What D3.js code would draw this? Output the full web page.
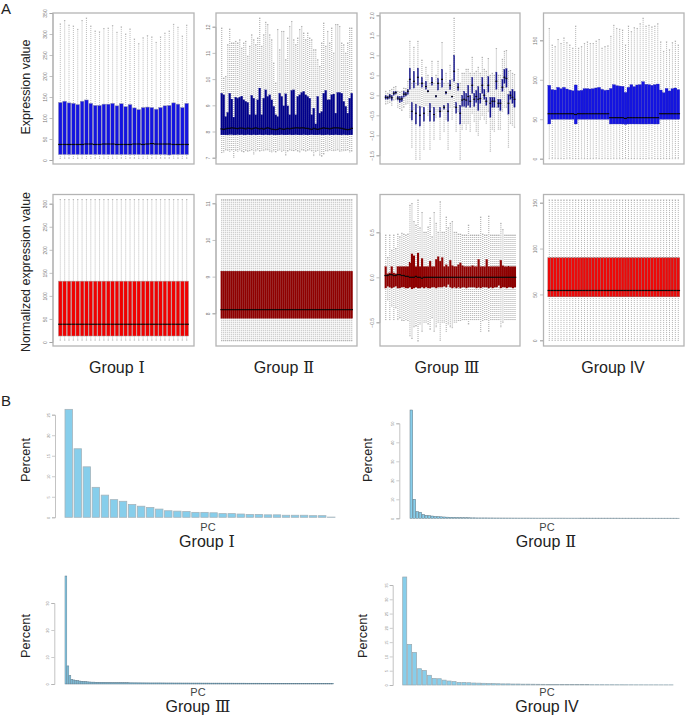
<!DOCTYPE html>
<html><head><meta charset="utf-8">
<script src="https://cdn.jsdelivr.net/npm/d3@7/dist/d3.min.js"></script>
<style>html,body{margin:0;padding:0;background:#fff}svg{display:block}text{font-family:"Liberation Sans",sans-serif}</style>
</head><body><svg id="c" width="685" height="717"></svg>
<script>
// ---------- Panel A, raw data (blue row) ----------
const g1Hi=[324,332,321,319,311,332,338,319,307,305,313,314,320,304,317,300,312,288,277,291,296,293,280,293,302,307,323,316,295,321];
const g1Q3=[137,140,136,135,132,140,143,135,130,130,133,133,135,129,134,127,132,124,120,125,126,125,121,125,129,130,136,133,125,135];
const g1Med=[37,37,37,37,37,37,38,38,37,37,38,38,38,37,37,37,37,38,38,37,38,39,38,38,38,38,37,37,37,37];
const g1Q1=[13,13,13,13,13,13,13,13,13,13,13,13,13,13,13,13,13,13,13,13,13,13,13,13,13,12,13,13,13,13];
const g1Lo=[4,4,4,4,4,4,4,4,4,4,4,4,4,4,4,4,4,4,4,4,4,4,4,4,4,4,4,4,4,4];

const g2Hi=[11.95,10.04,10.1,11.31,11.91,11.38,11.38,11.44,11.38,11.5,11.18,11.38,11.44,10.87,11.25,11.69,11.5,11.31,11.57,12.33,11.25,11.69,12.17,12.08,11.69,11.5,10.61,9.85,11.89,11.12,11.82,11.82,10.74,11.57,12.01,12.2,11.5,11.31,11.57,11.89,12.01,11.76,11.5,11.76,11.57,11.5,11.12,11.12,10.74,10.48,11.38,12.14,11.25,11.82,11.38,11.95,10.99,12.08,12.08,12.01,11.38,11.31,10.99,11.38,11.95,11.95];
const g2Q3=[9.46,9.4,8.57,8.73,9.46,9.24,8.55,9.31,9.27,9.31,9.35,9.21,9.15,9.11,8.64,9.38,9.27,8.64,9.21,9.66,8.64,9.27,9.59,9.34,9.4,9.21,8.96,8.64,8.57,9.46,9.34,8.98,9.44,8.98,8.64,9.57,9.59,8.64,9.34,9.4,9.49,9.53,9.4,9.34,9.27,8.64,8.89,8.29,9.34,8.7,8.76,9.46,9.57,9.21,9.21,9.4,9.43,8.7,9.49,9.49,9.46,9.15,8.96,8.7,9.27,9.46];
const g2Med=[8.1,8.08,8.1,8.12,8.12,8.14,8.13,8.12,8.11,8.13,8.13,8.12,8.1,8.13,8.12,8.1,8.12,8.14,8.12,8.1,8.12,8.09,8.12,8.14,8.12,8.09,8.08,8.07,8.08,8.12,8.1,8.08,8.1,8.12,8.1,8.12,8.13,8.14,8.14,8.13,8.14,8.14,8.12,8.12,8.1,8.08,8.12,8.1,8.08,8.1,8.12,8.14,8.12,8.12,8.1,8.12,8.14,8.14,8.14,8.13,8.12,8.1,8.08,8.07,8.08,8.12];
const g2Q1=[7.87,7.87,7.87,7.87,7.88,7.88,7.87,7.87,7.88,7.87,7.88,7.87,7.87,7.88,7.87,7.87,7.88,7.87,7.87,7.88,7.87,7.87,7.88,7.87,7.87,7.88,7.87,7.87,7.87,7.87,7.88,7.87,7.87,7.87,7.88,7.87,7.87,7.88,7.87,7.87,7.87,7.88,7.87,7.87,7.87,7.88,7.87,7.87,7.87,7.88,7.87,7.87,7.87,7.88,7.87,7.87,7.87,7.88,7.87,7.87,7.87,7.88,7.87,7.87,7.87,7.87];
const g2Lo=[7.2,7.22,7.3,7.28,7.25,7.3,7.02,7.28,7.25,7.3,7.25,7.22,7.28,7.25,7.27,7.3,7.14,7.26,7.3,7.25,7.28,7.27,7.3,7.3,7.25,7.22,7.26,7.22,7.28,7.3,7.24,7.28,7.1,7.25,7.3,7.28,7.27,7.3,7.25,7.22,7.3,7.28,7.25,7.28,7.3,7.26,7.08,7.24,7.28,7.1,7.05,7.14,7.27,7.26,7.3,7.28,7.27,7.28,7.3,7.25,7.26,7.27,7.28,7.3,7.22,7.25];

const g3Q3=[0,-.02,.03,0,.09,.1,-.02,-.03,-.02,.1,.08,.15,.68,-.18,.6,-.22,.68,-.28,.45,-.3,.35,.13,-.2,.45,-.3,0,.42,-.3,.65,-.25,.1,-.2,.38,-.02,1,-.18,.3,-.25,0,.1,.05,.25,0,.45,.05,.12,.22,.05,.45,.15,-.05,.47,-.05,-.05,-.05,.58,-.1,-.1,.4,.65,.67,.02,.1,.15,.1];
const g3Q1=[-.1,-.1,-.08,-.13,0,.03,-.12,-.18,-.16,-.05,-.02,.02,.15,-.62,.18,-.72,.25,-.77,.2,-.65,.15,.08,-.65,.25,-.65,-.05,.13,-.55,.2,-.35,.03,-.65,.14,-.05,.35,-.45,.12,-.72,-.28,-.28,-.3,-.25,-.3,.05,-.28,-.18,-.38,-.2,.05,-.1,-.25,.08,-.55,-.3,-.3,.15,-.3,-.38,.1,.3,.2,-.47,-.1,-.2,-.3];
const g3Med=[-.05,-.06,-.02,-.06,.05,.07,-.07,-.1,-.09,.03,.03,.1,.4,-.4,.35,-.45,.45,-.5,.3,-.45,.22,.1,-.4,.32,-.48,-.02,.3,-.4,.4,-.3,.07,-.4,.25,-.03,.6,-.3,.2,-.45,-.12,-.1,-.12,-.03,-.15,.25,-.1,-.03,-.1,-.08,.25,0,-.15,.25,-.2,-.15,-.15,.35,-.2,-.2,.2,.45,.42,-.2,0,-.05,-.1];
const g3Hi=[.1,.05,.12,.15,.2,.22,.1,.08,.1,.18,.17,.35,1.35,.3,1.2,.3,1.35,.3,.88,.3,.7,.5,.3,.85,.3,.5,.85,.3,1.32,.3,.55,.3,.75,.4,1.93,.3,.65,.3,.55,.55,.65,.65,.55,.95,.55,.6,.7,.55,.95,.65,.6,.92,.5,.55,.5,1.17,.5,.5,.9,1.1,1.12,.6,.62,.55,.52];
const g3Lo=[-.22,-.2,-.18,-.25,-.12,-.1,-.3,-.33,-.38,-.3,-.22,-.2,-.55,-1.3,-.35,-1.6,-.3,-1.6,-.3,-1.35,-.25,-.5,-1.35,-.3,-1.1,-.55,-.4,-1.1,-.4,-.9,-.6,-1.35,-.3,-.6,-.3,-.9,-.4,-1.6,-.85,-.7,-.85,-.7,-.9,-.45,-.65,-.9,-1,-.6,-.5,-.6,-.7,-.4,-1.4,-.85,-.9,-.3,-.85,-.85,-.4,-.3,-.3,-1.3,-.7,-.75,-.8];

const g4Hi=[165,144,142,151,146,153,147,144,140,168,140,142,146,148,146,146,149,151,140,142,143,155,169,165,164,163,144,168,161,166,165,171,178,168,169,167,168,171,148,136,148,138,147,149,144];
const g4Q3=[93,87.5,87,90.4,88.7,90.4,88.3,87,86,93.4,86,86.6,88.7,88.7,88.3,88.7,89.6,90.4,87.9,86.6,87,89,93.8,92.5,92,91.7,84,90.4,93.8,91.3,93.4,93.8,97.6,94.2,93.8,93,93.8,94.6,87,83.6,89,85.8,88.7,89.6,87.5];
const g4Med=[57,57,57,57,57,57,57,57,57,56,57,57,57,57,57,57,57,57,57,57,57,52,52,52,52,52,51,52,52,52,52,52,52,52,52,52,52,52,57,57,57,57,57,57,57];
const g4Q1=[44,50,50,50,50,50,50,50,50,44,50,50,50,50,50,50,50,50,50,50,50,44,44,44,44,44,43.5,44,44,44,44,44,44,44,44,44,44,44,50,50,50,50,50,50,50];
const g4Lo=[0,0,0,0,0,0,0,0,0,0,0,0,0,0,0,0,0,0,0,0,0,0,0,0,0,0,0,0,0,0,0,0,0,0,0,0,0,0,0,0,0,0,0,0,0];

// ---------- Panel A, normalized data (red row) ----------
const n1Summary={hi:309,q3:132,med:38.5,q1:13,lo:4,count:30};
const n2Summary={hi:11.1,q3:9.15,med:8.1,q1:7.86,lo:7.25,count:66};
const n4Summary={hi:153,q3:90,med:54.3,q1:47.4,lo:0,count:45};
const n3Hi=[.47,.22,.47,.3,.47,.32,.48,.45,.49,.48,.47,.48,.8,.82,.62,.58,.86,.55,.72,.5,.5,.56,.66,.45,.72,.6,.5,.84,.5,.5,.67,.55,.6,.62,.5,.5,.48,.48,.47,.47,.47,.58,.47,.47,.47,.47,.47,.67,.48,.47,.47,.68,.47,.47,.47,.47,.47,.6,.53,.47,.47,.47,.47,.47,.47];
const n3Q3=[.12,.04,.05,.12,.05,.04,.12,.12,.12,.12,.12,.12,.16,.26,.24,.12,.27,.12,.21,.12,.12,.12,.18,.12,.12,.2,.23,.18,.22,.12,.14,.12,.19,.13,.12,.12,.14,.16,.13,.12,.12,.12,.12,.13,.12,.12,.2,.12,.12,.12,.2,.12,.12,.12,.12,.12,.12,.19,.13,.12,.12,.12,.12,.12,.12];
const n3Med=[.02,.02,.03,.03,.02,.02,.03,.03,.02,.02,.01,.01,0,0,0,.01,0,0,-.01,0,0,0,0,0,0,0,0,0,0,0,0,0,0,0,0,0,0,0,0,0,0,0,0,0,0,0,0,0,0,0,0,0,0,0,0,0,0,0,0,0,0,0,0,0,0];
const n3Q1=[-.12,-.1,-.11,-.12,-.11,-.1,-.12,-.12,-.11,-.11,-.12,-.12,-.11,-.13,-.12,-.11,-.12,-.12,-.11,-.12,-.11,-.12,-.12,-.11,-.11,-.12,-.11,-.11,-.11,-.1,-.11,-.08,-.11,-.12,-.11,-.12,-.11,-.12,-.11,-.11,-.12,-.11,-.11,-.11,-.11,-.12,-.11,-.12,-.11,-.11,-.11,-.12,-.11,-.12,-.11,-.11,-.09,-.12,-.11,-.11,-.12,-.11,-.11,-.12,-.11];
const n3Lo=[-.47,-.25,-.47,-.32,-.47,-.34,-.47,-.45,-.48,-.48,-.47,-.48,-.65,-.68,-.55,-.54,-.71,-.52,-.6,-.5,-.5,-.52,-.58,-.45,-.6,-.55,-.5,-.7,-.5,-.5,-.6,-.52,-.55,-.56,-.5,-.5,-.48,-.48,-.47,-.47,-.47,-.52,-.47,-.47,-.47,-.47,-.47,-.6,-.48,-.47,-.47,-.6,-.47,-.47,-.47,-.47,-.47,-.55,-.5,-.47,-.47,-.47,-.47,-.47,-.47];

// ---------- Panel B data ----------
const pc1=[26.3,16.7,12.3,7.3,5.4,4.3,3.9,3.1,2.7,2.4,2,1.6,1.5,1.4,1.2,1.2,1.1,.9,.9,.8,.7,.7,.6,.6,.5,.5,.5,.4,.4,.05];
const pc2=[57,10,3.5,3.2,2,1.6,1.4,1.2,1,.9,.8,.7,.6,.55,.5,.45,.4,.35,.3,.3,.25,.25,.2,.2,.2,.2,.18,.18,.16,.16,.15,.15,.14,.14,.13,.13,.12,.12,.12,.12,.11,.11,.1,.1,.1,.1,.1,.1,.1,.1,.1,.1,.09,.09,.09,.09,.09,.09,.09,.09,.08,.08,.08,.08,.08,.08,.08,.08,.08,.08,.07,.07,.07,.07,.07,.07,.07,.07,.07,.07,.06,.06,.06,.06,.06,.06,.06,.06,.06,.05];
const pc3=[40,6.7,3.1,1.7,1.5,1.3,1.2,1.1,1,.9,.85,.8,.75,.7,.7,.65,.65,.6,.6,.6,.55,.55,.55,.5,.5,.5,.5,.5,.48,.48,.46,.46,.45,.45,.44,.44,.43,.43,.42,.42,.41,.41,.4,.4,.4,.4,.4,.4,.39,.39,.38,.38,.38,.38,.37,.37,.37,.37,.36,.36,.36,.36,.35,.35,.35,.35,.35,.35,.34,.34,.34,.34,.33,.33,.33,.33,.33,.33,.32,.32,.32,.32,.32,.32,.31,.31,.31,.31,.31,.31,.3,.3,.3,.3,.3,.3,.3,.3,.29,.29,.29,.29,.29,.29,.28,.28,.28,.28,.28,.28,.27,.27,.27,.27,.27,.27,.26,.26,.26,.26,.26,.26,.25,.25,.25,.25,.25,.25,.24,.24,.24,.24,.24,.23];
const pc4=[37.8,14.2,11.4,5.7,5.1,3.4,2.3,2.2,1.7,1.4,1.2,.9,.9,.8,.7,.65,.6,.55,.5,.45,.4,.4,.35,.35,.3,.3,.28,.26,.24,.22,.2,.2,.18,.18,.16,.15,.14,.13,.12,.12,.11,.1,.1,.09,.09,.08,.08,.07,.07,.06,.06,.06,.05,.05,.05];

// ---------- Tick labels and texts ----------
const ticksG1=[0,50,100,150,200,250,300,350], ticksG2=[7,8,9,10,11,12], ticksG3=[-1.5,-1,-.5,0,.5,1,1.5,2], ticksG4=[0,50,100,150];
const ticksN1=[0,50,100,150,200,250,300], ticksN2=[8,9,10,11], ticksN3=[-.5,0,.5], ticksN4=[0,50,100,150];
const groupWord="Group";
const groupNumerals=["Ⅰ","Ⅱ","Ⅲ","IV"];

const expand=s=>d3.range(s.count).map(()=>s);
const col=(hi,q3,med,q1,lo)=>hi.map((_,i)=>({hi:hi[i],q3:q3[i],med:med[i],q1:q1[i],lo:lo[i]}));

const svg=d3.select("#c");
const BLUE="#1414e0",NAVY="#00008b",RED="#f00000",DARK="#8f0000";
const f1=d3.format(".1f");

const boxPanels=[
 {f:[53,194,13,164],x:[60.3,186.7],d:[0,350],r:[160,13],t:ticksG1,rows:col(g1Hi,g1Q3,g1Med,g1Q1,g1Lo),c:BLUE,w:3.7,s:"#9a9ab0",bs:.5,ws:.7,wc:"#a0a0a0"},
 {f:[216,357,13,164],x:[221.7,351.7],d:[7,12],r:[157.7,26.7],t:ticksG2,rows:col(g2Hi,g2Q3,g2Med,g2Q1,g2Lo),c:NAVY,w:1.98,s:"#00007a",bs:.15,ws:1.3,wc:"#bcbcbc"},
 {f:[380,520,13,164],x:[385.7,514.5],d:[-1.5,2],r:[155.3,15.3],t:ticksG3,rows:col(g3Hi,g3Q3,g3Med,g3Q1,g3Lo),c:"#12128f",w:1.3,s:"#3a3a90",bs:.3,ws:1.2,wc:"#b8b8b8",fmt:f1},
 {f:[543.5,684,13,164],x:[549.3,678.3],d:[0,150],r:[158.7,40.3],t:ticksG4,rows:col(g4Hi,g4Q3,g4Med,g4Q1,g4Lo),c:BLUE,w:2.9,s:"#2a2ab0",bs:.3,ws:.9,wc:"#aaaaaa"},
 {f:[53,194,194.5,346],x:[60.3,186.7],d:[0,300],r:[342,203.7],t:ticksN1,rows:expand(n1Summary),c:RED,w:3.7,s:"#a89a9a",bs:.5,ws:.7,wc:"#a0a0a0"},
 {f:[216,357,194.5,346],x:[221.7,351.7],d:[8,11],r:[313.3,203.3],t:ticksN2,rows:expand(n2Summary),c:DARK,w:1.98,s:"#7c0000",bs:.12,ws:1.3,wc:"#bcbcbc"},
 {f:[380,520,194.5,346],x:[385.7,515],d:[-.5,.5],r:[322.3,232.3],t:ticksN3,rows:col(n3Hi,n3Q3,n3Med,n3Q1,n3Lo),c:DARK,w:1.98,s:"#7c0000",bs:.12,ws:1.3,wc:"#bcbcbc",fmt:f1},
 {f:[543.5,684,194.5,346],x:[549.3,678.3],d:[0,150],r:[340.3,202.7],t:ticksN4,rows:expand(n4Summary),c:"#ee0808",w:2.9,s:"#906060",bs:.4,ws:.9,wc:"#aaaaaa"}
];

boxPanels.forEach(p=>{
 const g=svg.append("g");
 const y=d3.scaleLinear().domain(p.d).range(p.r);
 const x=d3.scalePoint().domain(d3.range(p.rows.length)).range(p.x);
 const cols=g.selectAll("g.c").data(p.rows).join("g").attr("transform",(d,i)=>`translate(${x(i)},0)`);
 cols.append("line").attr("y1",d=>y(d.hi)).attr("y2",d=>y(d.lo))
   .attr("stroke",p.wc).attr("stroke-width",p.ws).attr("stroke-dasharray","1,1");
 [d=>d.hi,d=>d.lo].forEach(v=>cols.append("line").attr("x1",-.7).attr("x2",.7).attr("y1",d=>y(v(d))).attr("y2",d=>y(v(d))).attr("stroke","#8a8a8a").attr("stroke-width",.5));
 cols.append("rect").attr("x",-p.w/2).attr("width",p.w).attr("y",d=>y(d.q3)).attr("height",d=>y(d.q1)-y(d.q3))
   .attr("fill",p.c).attr("stroke",p.s).attr("stroke-width",p.bs);
 cols.append("line").attr("x1",-p.w/2-.3).attr("x2",p.w/2+.3).attr("y1",d=>y(d.med)).attr("y2",d=>y(d.med))
   .attr("stroke","#0a0a0a").attr("stroke-width",1.2);
 g.append("rect").attr("x",p.f[0]).attr("y",p.f[2]).attr("width",p.f[1]-p.f[0]).attr("height",p.f[3]-p.f[2])
   .attr("fill","none").attr("stroke","#b4b4b4").attr("stroke-width",1.3);
 const ax=d3.axisLeft(y).tickValues(p.t).tickSize(3).tickPadding(2).tickFormat(p.fmt||d3.format("d"));
 const a=g.append("g").attr("transform",`translate(${p.f[0]-.5},0)`).call(ax);
 a.select(".domain").attr("stroke","#b4b4b4");
 a.selectAll(".tick line").attr("stroke","#999").attr("stroke-width",.6);
 a.selectAll(".tick text").attr("fill","#777").attr("font-size",5).attr("x",null).attr("y",null)
   .attr("text-anchor","middle").attr("transform","translate(-7.5,0) rotate(-90)").attr("dy","0.35em");
});

const pcPanels=[
 {v:pc1,axisX:55,x:[65,335],d:[0,25],r:[517.3,414.7],t:[0,5,10,15,20,25],s:"#a4b4bc",sw:.8,inner:.18},
 {v:pc2,axisX:399.3,x:[410,679.3],d:[0,50],r:[518.3,423.3],t:[0,10,20,30,40,50],s:"#5f7480",sw:.5,inner:.1},
 {v:pc3,axisX:54.3,x:[65,333.5],d:[0,30],r:[684,603],t:[0,10,20,30],s:"#567080",sw:.45,inner:.1},
 {v:pc4,axisX:392.7,x:[402.7,673],d:[0,35],r:[685,585],t:[0,5,10,15,20,25,30,35],s:"#98a8b0",sw:.7,inner:.18}
];
pcPanels.forEach(p=>{
 const g=svg.append("g");
 const y=d3.scaleLinear().domain(p.d).range(p.r);
 const x=d3.scaleBand().domain(d3.range(p.v.length)).range(p.x).paddingInner(p.inner);
 g.selectAll("rect").data(p.v).join("rect").attr("x",(d,i)=>x(i)).attr("width",x.bandwidth())
  .attr("y",d=>y(d)).attr("height",d=>y(0)-y(d)).attr("fill","#87ceeb").attr("stroke",p.s).attr("stroke-width",p.sw);
 const a=g.append("g").attr("transform",`translate(${p.axisX},0)`).call(d3.axisLeft(y).tickValues(p.t).tickSize(3).tickPadding(2));
 a.select(".domain").attr("stroke","#b4b4b4").attr("stroke-width",.8);
 a.selectAll(".tick line").attr("stroke","#aaa").attr("stroke-width",.6);
 a.selectAll(".tick text").attr("fill","#888").attr("font-size",4).attr("x",null).attr("y",null)
   .attr("transform","translate(-6.5,0) rotate(-90)").attr("text-anchor","middle").attr("dy","0.35em");
});

function label(t,x,y,size,opts={}){
 const e=svg.append("text").text(t).attr("text-anchor",opts.start?"start":"middle").attr("font-size",size).attr("fill",opts.fill||"#222")
  .attr("transform",`translate(${x},${y})`+(opts.rot?" rotate(-90)":""));
 if(opts.len) e.attr("textLength",opts.len).attr("lengthAdjust","spacingAndGlyphs");
}
function groupLabel(i,x,y){
 const e=svg.append("text").attr("text-anchor","middle").attr("font-size",16).attr("fill","#222").attr("transform",`translate(${x},${y})`);
 e.append("tspan").text(groupWord);
 e.append("tspan").text(groupNumerals[i]).attr("dx",i<3?5:4)
  .attr("font-family",i<3?'"DejaVu Serif"':'"Liberation Sans"');
}
label("A",1,14,15,{start:true});
label("B",1,405.5,15,{start:true});
label("Expression value",30,87,13,{rot:true,len:95});
label("Normalized expression value",30,272,13,{rot:true,len:160});
[117,284,447,613].forEach((x,i)=>groupLabel(i,x,373));
[[207,547],[546,547],[198,712],[547,712]].forEach((c,i)=>groupLabel(i,c[0],c[1]));
[[208,530.5],[547,530.5],[198,696],[547,696]].forEach(c=>label("PC",c[0],c[1],11,{fill:"#444"}));
[[30,460],[372,460],[30,636],[367,636]].forEach(c=>label("Percent",c[0],c[1],13,{rot:true,len:44}));
</script></body></html>
